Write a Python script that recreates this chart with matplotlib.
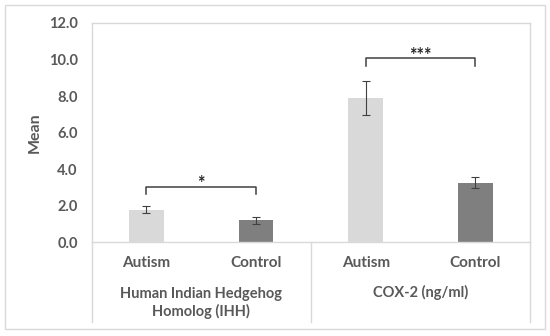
import matplotlib
matplotlib.use("Agg")
import matplotlib.pyplot as plt
import matplotlib.transforms as mtransforms
from matplotlib.patches import Rectangle

# data
groups = ["Human Indian Hedgehog\nHomolog (IHH)", "COX-2 (ng/ml)"]
subgroups = ["Autism", "Control"]
means = [1.79, 1.20, 7.89, 3.27]
errors = [0.17, 0.21, 0.92, 0.32]
significance = ["*", "***"]
bracket_top = [3.05, 10.06]
bracket_drop = [0.42, 0.44]

text_col = "#595959"
line_col = "#d9d9d9"
bar_cols = ["#d9d9d9", "#7f7f7f"]

plt.rcParams['font.family'] = ['Lato', 'DejaVu Sans']

fig = plt.figure(figsize=(5.5, 3.36), dpi=100)
ax = fig.add_axes([0.1667, 0.2789, 0.797, 0.6527])

x = list(range(len(means)))
colors = [bar_cols[i % 2] for i in x]
ax.bar(x, means, width=0.315, color=colors, zorder=2)
ax.errorbar(x, means, yerr=errors, fmt='none', ecolor="#404040",
            elinewidth=0.8, capsize=2.6, capthick=0.8, zorder=3)

ax.set_xlim(-0.5, len(means) - 0.5)
ax.set_ylim(0, 12)
ax.set_yticks([0, 2, 4, 6, 8, 10, 12])
ax.set_yticklabels([f"{v:.1f}" for v in [0, 2, 4, 6, 8, 10, 12]],
                   fontsize=10.5, fontweight='bold', color=text_col)
ax.tick_params(axis='y', length=0, pad=10)
ax.set_xticks([])
for s in ['left', 'top', 'right', 'bottom']:
    ax.spines[s].set_color(line_col)
    ax.spines[s].set_linewidth(1.0)

# multi-level category axis
trans = mtransforms.blended_transform_factory(ax.transData, ax.transAxes)
for i in x:
    ax.text(i, -0.093, subgroups[i % 2], transform=trans, ha='center', va='center',
            fontsize=11, fontweight='bold', color=text_col)
for g, name in enumerate(groups):
    yy = -0.277 if "\n" in name else -0.231
    ax.text(2 * g + 0.5, yy, name, transform=trans, ha='center', va='center',
            fontsize=10.5, fontweight='bold', color=text_col, linespacing=1.25)
for xd in [-0.5, 1.5, 3.5]:
    ax.plot([xd, xd], [0, -0.362], transform=trans, color=line_col,
            lw=1.0, clip_on=False)

# significance brackets
for g in range(len(groups)):
    x0, x1 = 2 * g, 2 * g + 1
    yt = bracket_top[g]
    yb = yt - bracket_drop[g]
    ax.plot([x0, x0, x1, x1], [yb, yt, yt, yb], color="#404040", lw=1.1, zorder=4)
    ax.text((x0 + x1) / 2, yt - 0.28, significance[g], ha='center', va='bottom',
            fontsize=13, fontweight='bold', color="#262626")

fig.text(35 / 550, 1 - 132.7 / 336, "Mean", rotation=90, ha='center', va='center',
         fontsize=11.5, fontweight='bold', color=text_col)

fig.patches.append(Rectangle((5 / 550, 1 - 329 / 336), 540 / 550, 324 / 336,
                             transform=fig.transFigure, fill=False,
                             edgecolor=line_col, lw=1.0))

fig.savefig("out.png", dpi=100)
